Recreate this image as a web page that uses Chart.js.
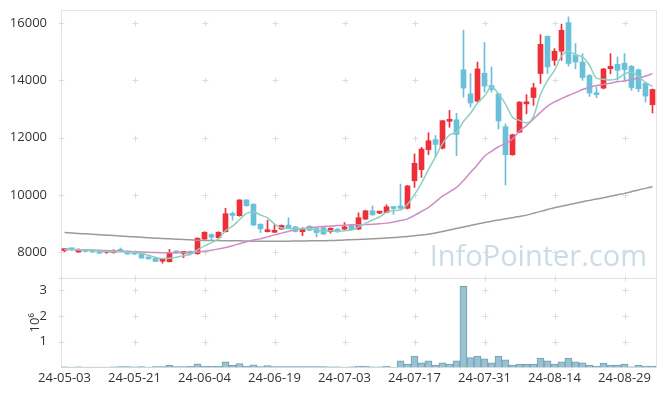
<!DOCTYPE html>
<html>
<head>
<meta charset="utf-8">
<script src="https://cdn.jsdelivr.net/npm/chart.js@4/dist/chart.umd.min.js"></script>
<style>
  html, body { margin: 0; padding: 0; background: #fff; }
  #wrap { width: 665px; height: 396px; }
</style>
</head>
<body>
<div id="wrap"><canvas id="chart" width="665" height="396"></canvas></div>
<script>
/* global Chart */

const dates = [
  '24-05-03', '24-05-07', '24-05-08', '24-05-09', '24-05-10', '24-05-13', '24-05-14', '24-05-16', '24-05-17', '24-05-20',
  '24-05-21', '24-05-22', '24-05-23', '24-05-24', '24-05-27', '24-05-28', '24-05-29', '24-05-30', '24-05-31', '24-06-03',
  '24-06-04', '24-06-05', '24-06-07', '24-06-10', '24-06-11', '24-06-12', '24-06-13', '24-06-14', '24-06-17', '24-06-18',
  '24-06-19', '24-06-20', '24-06-21', '24-06-24', '24-06-25', '24-06-26', '24-06-27', '24-06-28', '24-07-01', '24-07-02',
  '24-07-03', '24-07-04', '24-07-05', '24-07-08', '24-07-09', '24-07-10', '24-07-11', '24-07-12', '24-07-15', '24-07-16',
  '24-07-17', '24-07-18', '24-07-19', '24-07-22', '24-07-23', '24-07-24', '24-07-25', '24-07-26', '24-07-29', '24-07-30',
  '24-07-31', '24-08-01', '24-08-02', '24-08-05', '24-08-06', '24-08-07', '24-08-08', '24-08-09', '24-08-12', '24-08-13',
  '24-08-14', '24-08-16', '24-08-19', '24-08-20', '24-08-21', '24-08-22', '24-08-23', '24-08-26', '24-08-27', '24-08-28',
  '24-08-29', '24-08-30', '24-09-02', '24-09-03', '24-09-04',
]

const open = [
  8050, 8100, 8000, 8070, 8060, 8030, 7990, 7980, 8090, 8030,
  7990, 7940, 7820, 7780, 7680, 7660, 8010, 7950, 8020, 7940,
  8450, 8610, 8500, 8710, 9340, 9270, 9820, 9670, 8970, 8710,
  8690, 8800, 8940, 8880, 8710, 8900, 8820, 8850, 8710, 8800,
  8800, 8920, 8800, 9150, 9440, 9360, 9380, 9580, 9610, 9530,
  10490, 10880, 11580, 11930, 11630, 12570, 12620, 14370, 13530, 13270,
  14250, 13820, 13530, 12380, 11400, 12190, 13180, 13400, 14240, 15540,
  14700, 15020, 16020, 14880, 14640, 14170, 13520, 13730, 14410, 14560,
  14600, 14490, 14370, 13900, 13150,
]
const high = [
  8110, 8120, 8110, 8090, 8070, 8040, 8030, 8080, 8140, 8040,
  8000, 7950, 7830, 7790, 7760, 8095, 8030, 8020, 8040, 8500,
  8710, 8640, 8710, 9530, 9400, 9830, 9840, 9690, 8990, 9110,
  8950, 8950, 9200, 8900, 8850, 8920, 8840, 8870, 8850, 8820,
  9030, 8940, 9370, 9460, 9610, 9420, 9650, 9600, 10375, 10330,
  11430, 11660, 12170, 12070, 12600, 12950, 12850, 15755, 14235, 14640,
  15325, 14470, 13550, 12480, 12120, 13260, 13500, 13900, 15600, 15560,
  15110, 15965, 16220, 15290, 14935, 14200, 13765, 14420, 14935, 14820,
  14935, 14525, 14400, 13920, 13700,
]
const low = [
  8010, 8060, 7990, 8000, 7980, 7950, 7950, 7960, 8000, 7920,
  7910, 7780, 7750, 7660, 7610, 7650, 7960, 7800, 7900, 7920,
  8440, 8410, 8490, 8700, 9110, 9250, 9600, 8920, 8680, 8700,
  8680, 8790, 8820, 8700, 8570, 8740, 8530, 8610, 8660, 8680,
  8790, 8760, 8790, 9140, 9280, 9340, 9370, 9320, 9500, 9500,
  10260, 10610, 11400, 11310, 11600, 12360, 11370, 13410, 13065, 13250,
  13590, 13590, 12300, 10340, 11380, 12170, 12830, 13125, 13890, 14240,
  14525, 14700, 14500, 14410, 14000, 13440, 13395, 13700, 14235, 14000,
  14000, 13650, 13600, 13240, 12860,
]
const close = [
  8070, 8080, 8090, 8020, 8000, 7960, 8010, 8060, 8020, 7930,
  7930, 7790, 7760, 7670, 7700, 7990, 7970, 8000, 7940, 8480,
  8690, 8520, 8690, 9340, 9280, 9820, 9620, 8940, 8810, 8760,
  8760, 8930, 8840, 8720, 8830, 8760, 8680, 8630, 8830, 8710,
  8880, 8780, 9200, 9440, 9300, 9400, 9580, 9520, 9530, 10310,
  11100, 11600, 11890, 11760, 12590, 12610, 12110, 13730, 13210, 14400,
  13800, 13680, 12580, 11400, 12100, 13240, 13240, 13740, 15260, 14470,
  15020, 15750, 14590, 14640, 14100, 13560, 13500, 14400, 14490, 14350,
  14380, 13750, 13710, 13450, 13680,
]
const volume = [
  20000, 15000, 18000, 12000, 15000, 10000, 12000, 20000, 30000, 30000,
  25000, 30000, 15000, 30000, 30000, 80000, 30000, 30000, 40000, 140000,
  40000, 40000, 40000, 220000, 80000, 150000, 40000, 100000, 30000, 70000,
  30000, 30000, 30000, 30000, 30000, 30000, 30000, 30000, 20000, 20000,
  10000, 25000, 55000, 55000, 20000, 20000, 55000, 15000, 260000, 130000,
  440000, 180000, 260000, 90000, 180000, 130000, 260000, 3150000, 380000, 440000,
  330000, 180000, 440000, 290000, 90000, 130000, 130000, 130000, 360000, 260000,
  130000, 220000, 360000, 220000, 180000, 90000, 50000, 170000, 90000, 90000,
  130000, 20000, 90000, 50000, 50000,
]
const ma5 = [
  8080, 8080, 8080, 8070, 8052, 8030, 8016, 8010, 8010, 7996,
  7990, 7946, 7886, 7816, 7770, 7782, 7818, 7866, 7920, 8076,
  8216, 8326, 8464, 8744, 8904, 9130, 9350, 9400, 9294, 9190,
  8978, 8840, 8820, 8802, 8816, 8816, 8766, 8724, 8746, 8722,
  8746, 8766, 8880, 9002, 9120, 9224, 9384, 9448, 9466, 9668,
  10008, 10412, 10886, 11332, 11788, 12090, 12192, 12560, 12850, 13212,
  13450, 13764, 13534, 13172, 12712, 12600, 12512, 12744, 13516, 13990,
  14346, 14848, 15018, 14894, 14820, 14528, 14078, 14040, 14010, 14060,
  14224, 14274, 14136, 13928, 13794,
]
const ma20 = [
  8095, 8090, 8085, 8080, 8070, 8060, 8050, 8040, 8030, 8020,
  8010, 8000, 7990, 7980, 7975, 7975, 7975, 7980, 7990, 8000,
  8030, 8060, 8110, 8160, 8220, 8290, 8360, 8420, 8460, 8530,
  8600, 8660, 8720, 8780, 8820, 8850, 8870, 8890, 8910, 8925,
  8940, 8950, 8955, 8960, 8970, 8985, 9010, 9050, 9100, 9160,
  9280, 9420, 9560, 9750, 9950, 10100, 10260, 10500, 10780, 11050,
  11350, 11520, 11680, 11790, 11950, 12230, 12420, 12650, 12880, 13100,
  13250, 13360, 13470, 13570, 13680, 13760, 13820, 13860, 13900, 13950,
  13980, 14030, 14080, 14150, 14235,
]
const ma60 = [
  8680, 8665, 8650, 8635, 8620, 8605, 8590, 8575, 8560, 8545,
  8530, 8515, 8500, 8485, 8470, 8460, 8450, 8440, 8425, 8410,
  8405, 8400, 8400, 8395, 8390, 8390, 8385, 8380, 8380, 8380,
  8380, 8380, 8380, 8385, 8385, 8390, 8390, 8395, 8400, 8410,
  8420, 8430, 8440, 8450, 8460, 8475, 8490, 8505, 8525, 8545,
  8570, 8595, 8620, 8665, 8715, 8770, 8820, 8875, 8930, 8980,
  9030, 9075, 9120, 9160, 9200, 9245, 9290, 9355, 9420, 9485,
  9550, 9600, 9650, 9705, 9760, 9805, 9850, 9900, 9950, 10000,
  10050, 10110, 10170, 10225, 10280,
]
const priceTicks = [8000, 10000, 12000, 14000, 16000]
const volumeTicks = [1000000, 2000000, 3000000]

const UP = '#ee2f38'
const DOWN = '#6ac0d9'
const FONT = "'Open Sans', 'Noto Sans', sans-serif"
const candleColors = close.map((c, i) => (c >= open[i] ? UP : DOWN))

// light "+" marks instead of grid lines, frame lines, watermark
const decor = {
  id: 'decor',
  beforeDatasetsDraw(chart) {
    const {ctx, scales: {x, y, yv}} = chart
    ctx.save()
    ctx.strokeStyle = '#e4e4e4'
    ctx.lineWidth = 1
    ctx.strokeRect(Math.round(x.left) + 0.5, Math.round(y.top) + 0.5, Math.round(x.right - x.left), Math.round(yv.bottom - y.top))
    ctx.beginPath()
    ctx.moveTo(x.left, Math.round(y.bottom) + 0.5)
    ctx.lineTo(x.right, Math.round(y.bottom) + 0.5)
    ctx.stroke()

    ctx.font = '29px ' + FONT
    ctx.fillStyle = '#cadde6'
    ctx.textAlign = 'right'
    ctx.textBaseline = 'alphabetic'
    ctx.fillText('InfoPointer.com', 647, 266)

    const xs = [x.left]
    dates.forEach((d, i) => { if (i % 10 === 0 && i > 0) xs.push(x.getPixelForValue(i)) })
    const ys = priceTicks.map(v => y.getPixelForValue(v))
      .concat(volumeTicks.map(v => yv.getPixelForValue(v)), [y.bottom])
    ctx.strokeStyle = '#dcdcdc'
    ctx.beginPath()
    xs.forEach(px => ys.forEach(py => {
      const cx = Math.round(px) + 0.5
      const cy = Math.round(py) + 0.5
      ctx.moveTo(cx - 3, cy); ctx.lineTo(cx + 3, cy)
      ctx.moveTo(cx, cy - 3); ctx.lineTo(cx, cy + 3)
    }))
    ctx.stroke()
    ctx.restore()
  },
}

const line = (data, color) => ({
  type: 'line', data, yAxisID: 'y', borderColor: color, borderWidth: 1.5,
  pointRadius: 0, cubicInterpolationMode: 'monotone', order: 0,
})

const tickFont = {family: FONT, size: 13}

const fitLeft = s => {
  s.width = 61
  s.paddingTop = 0
  s.paddingBottom = 0
}

const ctx = document.getElementById('chart').getContext('2d')
// eslint-disable-next-line no-unused-vars
const chart = new Chart(ctx, {
  type: 'bar',
  data: {
    labels: dates,
    datasets: [
      {
        data: dates.map((d, i) => [low[i], high[i]]), yAxisID: 'y',
        backgroundColor: candleColors, barThickness: 1, grouped: false, order: 2,
      },
      {
        data: dates.map((d, i) => [open[i], close[i]]), yAxisID: 'y',
        backgroundColor: candleColors, barThickness: 5, minBarLength: 2, grouped: false, order: 1,
      },
      line(ma5, '#8dcfc0'),
      line(ma20, '#cc8cc4'),
      line(ma60, '#9a9a9a'),
      {
        data: volume, yAxisID: 'yv', backgroundColor: '#98c2d2', borderColor: '#6f9fb3',
        borderWidth: 1, barPercentage: 1, categoryPercentage: 1, grouped: false, order: 3,
      },
    ],
  },
  options: {
    responsive: false,
    animation: false,
    events: [],
    layout: {padding: {top: 10, right: 9, bottom: 7, left: 0}},
    plugins: {legend: {display: false}, tooltip: {enabled: false}},
    scales: {
      x: {
        type: 'category',
        offset: true,
        grid: {display: false, drawTicks: false, tickLength: 0},
        border: {display: false},
        ticks: {
          autoSkip: false, maxRotation: 0, padding: 3, color: '#333', font: tickFont,
          callback: (v, i) => (i % 10 === 0 ? dates[i] : null),
        },
      },
      yv: {
        stack: 'v', stackWeight: 1, min: 0, max: 3470000,
        grid: {display: false}, border: {display: false},
        afterBuildTicks: s => { s.ticks = volumeTicks.map(value => ({value})) },
        afterFit: fitLeft,
        ticks: {color: '#333', padding: 6, font: tickFont, callback: v => String(v / 1000000)},
        title: {display: true, text: '10⁶', color: '#333', font: tickFont, padding: {top: 27, bottom: 0}},
      },
      y: {
        stack: 'v', stackWeight: 3, min: 7090, max: 16460,
        grid: {display: false}, border: {display: false},
        afterBuildTicks: s => { s.ticks = priceTicks.map(value => ({value})) },
        afterFit: fitLeft,
        ticks: {color: '#333', padding: 6, font: tickFont, callback: v => String(v)},
      },
    },
  },
  plugins: [decor],
})
</script>
</body>
</html>
